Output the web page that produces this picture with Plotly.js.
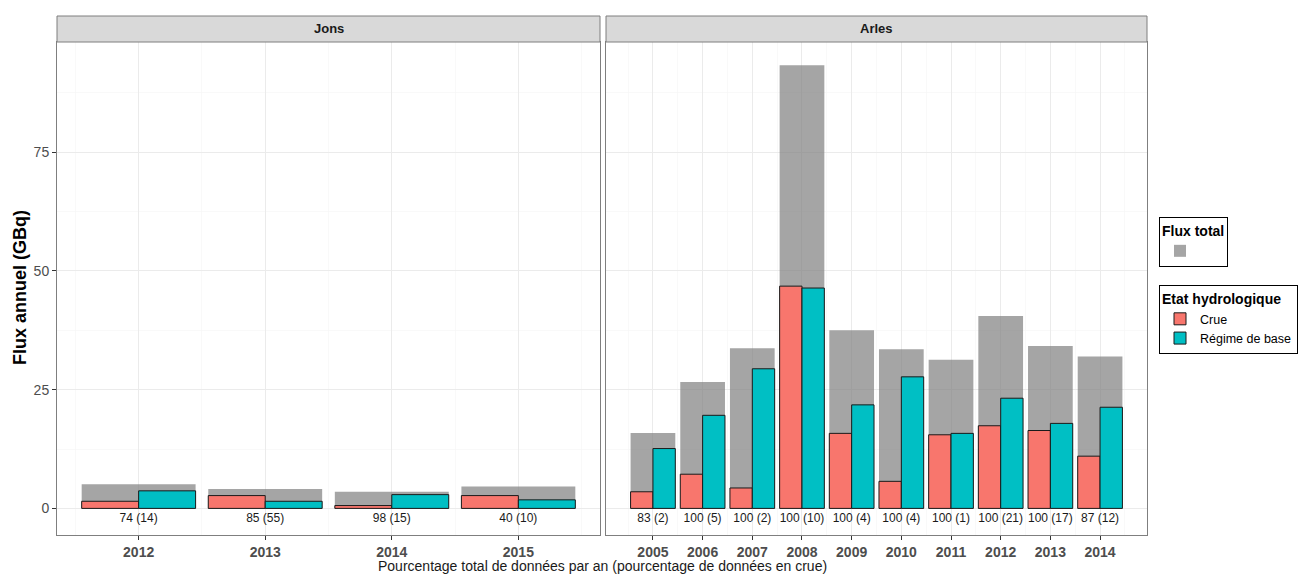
<!DOCTYPE html>
<html>
<head>
<meta charset="utf-8">
<script src="https://cdn.plot.ly/plotly-3.0.1.min.js"></script>
<style>html,body{margin:0;padding:0;background:#fff;}#chart{width:1298px;height:575px;}</style>
</head>
<body>
<div id="chart"></div>
<script>
// ---- data ----
const jonsYears = [2012, 2013, 2014, 2015];
const jonsTotal = [5.1, 4.1, 3.5, 4.6];
const jonsCrue  = [1.5, 2.7, 0.6, 2.7];
const jonsBase  = [3.7, 1.5, 2.9, 1.8];
const jonsLabels = ["74 (14)", "85 (55)", "98 (15)", "40 (10)"];

const arlesYears = [2005, 2006, 2007, 2008, 2009, 2010, 2011, 2012, 2013, 2014];
const arlesTotal = [15.9, 26.6, 33.7, 93.3, 37.5, 33.5, 31.3, 40.5, 34.2, 32.0];
const arlesCrue  = [3.5, 7.2, 4.3, 46.8, 15.8, 5.7, 15.5, 17.4, 16.4, 11.0];
const arlesBase  = [12.6, 19.6, 29.4, 46.4, 21.8, 27.7, 15.8, 23.2, 17.9, 21.3];
const arlesLabels = ["83 (2)", "100 (5)", "100 (2)", "100 (10)", "100 (4)", "100 (4)", "100 (1)", "100 (21)", "100 (17)", "87 (12)"];

const panelNames = ["Jons", "Arles"];
const yTicks = [0, 25, 50, 75];
const labelY = -1;

// ---- styles ----
const FONT = "Liberation Sans, Arial, sans-serif";
const RED = "#F8766D", TEAL = "#00BFC4", GREY = "rgba(127,127,127,0.7)";

function panelTraces(years, total, crue, base, labels, xa, ya, showLeg) {
  return [
    {type: "bar", x: years, y: total, xaxis: xa, yaxis: ya, offset: -0.45, width: 0.9,
     marker: {color: GREY, line: {width: 0}}, name: "", legend: "legend",
     showlegend: showLeg, hoverinfo: "skip"},
    {type: "bar", x: years, y: crue, xaxis: xa, yaxis: ya, offset: -0.45, width: 0.45,
     marker: {color: RED, line: {color: "#1a1a1a", width: 1}}, name: "Crue", legend: "legend2",
     showlegend: showLeg, hoverinfo: "skip"},
    {type: "bar", x: years, y: base, xaxis: xa, yaxis: ya, offset: 0, width: 0.45,
     marker: {color: TEAL, line: {color: "#1a1a1a", width: 1}}, name: "Régime de base", legend: "legend2",
     showlegend: showLeg, hoverinfo: "skip"},
    {type: "scatter", mode: "text", x: years, y: years.map(() => labelY), text: labels,
     textposition: "bottom center", textfont: {family: FONT, size: 12, color: "#1a1a1a"},
     xaxis: xa, yaxis: ya, showlegend: false, hoverinfo: "skip"}
  ];
}

const data = [
  ...panelTraces(jonsYears, jonsTotal, jonsCrue, jonsBase, jonsLabels, "x", "y", false),
  ...panelTraces(arlesYears, arlesTotal, arlesCrue, arlesBase, arlesLabels, "x2", "y2", true)
];

const L = 57, R = 151, T = 42, B = 40, W = 1298, H = 575;
const pw = W - L - R, ph = H - T - B;
const d1 = [0, 543 / pw], d2 = [549 / pw, 1];
const stripTop = 1 + 26 / ph;

function xAxis(years, domain, anchor) {
  const lo = years[0] - 0.45, hi = years[years.length - 1] + 0.45, pad = (hi - lo) * 0.05;
  return {
    domain: domain, anchor: anchor, range: [lo - pad, hi + pad],
    tickvals: years, ticktext: years.map(String),
    ticks: "outside", ticklen: 4, tickcolor: "#333333",
    tickfont: {family: FONT, size: 14, color: "#4D4D4D", weight: "bold"},
    showgrid: true, gridcolor: "#EBEBEB", gridwidth: 1,
    minor: {dtick: 0.5, tick0: years[0] - 0.5, showgrid: true, gridcolor: "#F5F5F5", gridwidth: 0.6},
    showline: true, mirror: true, linecolor: "#7F7F7F", linewidth: 1,
    zeroline: false, fixedrange: true
  };
}
function yAxis(anchor, showLabels) {
  return {
    domain: [0, 1], anchor: anchor, range: [-5.6, 98.2],
    tickvals: yTicks, ticktext: yTicks.map(String), showticklabels: showLabels,
    ticks: showLabels ? "outside" : "", ticklen: 4, tickcolor: "#333333",
    tickfont: {family: FONT, size: 14, color: "#4D4D4D"},
    showgrid: true, gridcolor: "#EBEBEB", gridwidth: 1,
    minor: {dtick: 12.5, tick0: 0, showgrid: true, gridcolor: "#F5F5F5", gridwidth: 0.6},
    showline: true, mirror: true, linecolor: "#7F7F7F", linewidth: 1,
    zeroline: false, fixedrange: true
  };
}

const shapes = [d1, d2].map(d => ({
  type: "rect", xref: "paper", yref: "paper", x0: d[0], x1: d[1], y0: 1, y1: stripTop,
  fillcolor: "#D9D9D9", line: {color: "#7F7F7F", width: 1}, layer: "above"
}));

const annotations = [
  ...[d1, d2].map((d, i) => ({
    xref: "paper", yref: "paper", x: (d[0] + d[1]) / 2, y: (1 + stripTop) / 2,
    text: "<b>" + panelNames[i] + "</b>", showarrow: false,
    font: {family: FONT, size: 13, color: "#1a1a1a"}, xanchor: "center", yanchor: "middle"
  })),
  {xref: "paper", yref: "paper", x: (20 - L) / pw, y: (H - B - 288) / ph,
   text: "<b>Flux annuel (GBq)</b>", textangle: -90, showarrow: false,
   font: {family: FONT, size: 18, color: "#000"}, xanchor: "center", yanchor: "middle"},
  {xref: "paper", yref: "paper", x: (602 - L) / pw, y: (H - B - 566) / ph,
   text: "Pourcentage total de données par an (pourcentage de données en crue)", showarrow: false,
   font: {family: FONT, size: 14, color: "#1a1a1a"}, xanchor: "center", yanchor: "middle"}
];

const legendX = 1159 / W;
const layout = {
  width: W, height: H,
  margin: {l: L, r: R, t: T, b: B, pad: 0, autoexpand: false},
  paper_bgcolor: "#fff", plot_bgcolor: "#fff",
  barmode: "overlay",
  font: {family: FONT, color: "#1a1a1a"},
  xaxis: xAxis(jonsYears, d1, "y"),
  xaxis2: xAxis(arlesYears, d2, "y2"),
  yaxis: yAxis("x", true),
  yaxis2: yAxis("x2", false),
  shapes: shapes,
  annotations: annotations,
  legend: {
    xref: "container", yref: "container",
    x: legendX, y: 1 - 217 / H, xanchor: "left", yanchor: "top",
    bordercolor: "#000", borderwidth: 1, bgcolor: "#fff",
    title: {text: "<b>Flux total</b>", side: "top", font: {family: FONT, size: 14, color: "#000"}},
    font: {family: FONT, size: 12.5, color: "#000"}, itemwidth: 30, tracegroupgap: 0
  },
  legend2: {
    xref: "container", yref: "container",
    x: legendX, y: 1 - 285 / H, xanchor: "left", yanchor: "top",
    bordercolor: "#000", borderwidth: 1, bgcolor: "#fff",
    title: {text: "<b>Etat hydrologique</b>", side: "top", font: {family: FONT, size: 14, color: "#000"}},
    font: {family: FONT, size: 12.5, color: "#000"}, itemwidth: 30, tracegroupgap: 0
  }
};

Plotly.newPlot("chart", data, layout, {staticPlot: true, displayModeBar: false});
</script>
</body>
</html>
